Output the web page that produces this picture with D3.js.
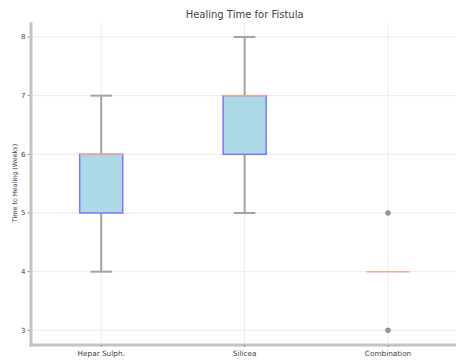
<!DOCTYPE html>
<html><head><meta charset="utf-8">
<script src="https://cdn.jsdelivr.net/npm/d3@7"></script>
<style>body{margin:0;background:#fff}svg{display:block}text{font-family:"DejaVu Sans",sans-serif;fill:#444}</style>
</head><body><svg id="c" width="456" height="360"></svg>
<script>
const categories = ["Hepar Sulph.", "Silicea", "Combination"];
const q1 = [5, 6, 4];
const medians = [6, 7, 4];
const q3 = [6, 7, 4];
const whiskerLow = [4, 5, 4];
const whiskerHigh = [7, 8, 4];
const fliers = [[], [], [5, 3]];
const yTicks = [3, 4, 5, 6, 7, 8];

const svg = d3.select("#c");
const L = 29.5, R = 459.75, T = 22.3, B = 345;
const x = d3.scaleLinear().domain([0.5, 3.5]).range([L, R]);
const y = d3.scaleLinear().domain([2.75, 8.25]).range([B, T]);

// grid
svg.append("g").selectAll("line").data(yTicks).join("line")
  .attr("x1", L).attr("x2", R).attr("y1", d => y(d)).attr("y2", d => y(d))
  .attr("stroke", "#ebebeb").attr("stroke-width", 1);
svg.append("g").selectAll("line").data(categories).join("line")
  .attr("x1", (d, i) => x(i + 1)).attr("x2", (d, i) => x(i + 1)).attr("y1", T).attr("y2", B)
  .attr("stroke", "#ebebeb").attr("stroke-width", 1);

const bw = 0.3, cw = 0.15;
const g = svg.append("g");
categories.forEach((c, i) => {
  const cx = x(i + 1);
  const hw = (x(1 + bw / 2) - x(1));
  const chw = (x(1 + cw / 2) - x(1));
  const wc = "#a3a3a3";
  g.append("line").attr("x1", cx).attr("x2", cx).attr("y1", y(q1[i])).attr("y2", y(whiskerLow[i]))
    .attr("stroke", wc).attr("stroke-width", 2);
  g.append("line").attr("x1", cx).attr("x2", cx).attr("y1", y(q3[i])).attr("y2", y(whiskerHigh[i]))
    .attr("stroke", wc).attr("stroke-width", 2);
  if (whiskerLow[i] !== whiskerHigh[i]) {
    g.append("line").attr("x1", cx - chw).attr("x2", cx + chw).attr("y1", y(whiskerLow[i])).attr("y2", y(whiskerLow[i]))
      .attr("stroke", wc).attr("stroke-width", 2);
    g.append("line").attr("x1", cx - chw).attr("x2", cx + chw).attr("y1", y(whiskerHigh[i])).attr("y2", y(whiskerHigh[i]))
      .attr("stroke", wc).attr("stroke-width", 2);
  }
  if (q3[i] !== q1[i]) {
    g.append("rect").attr("x", cx - hw).attr("width", 2 * hw)
      .attr("y", y(q3[i])).attr("height", y(q1[i]) - y(q3[i]))
      .attr("fill", "#add8e6").attr("stroke", "#7878ff").attr("stroke-width", 1.5);
  }
  g.append("line").attr("x1", cx - hw).attr("x2", cx + hw).attr("y1", y(medians[i])).attr("y2", y(medians[i]))
    .attr("stroke", "#f5a98a").attr("stroke-width", 1.5);
  fliers[i].forEach(v => {
    g.append("circle").attr("cx", cx).attr("cy", y(v)).attr("r", 2.3)
      .attr("fill", "#a0a0a0").attr("stroke", "#707070").attr("stroke-width", 0.8);
  });
});

// axes spines
svg.append("line").attr("x1", L + 1.5).attr("x2", L + 1.5).attr("y1", T).attr("y2", B + 1.5)
  .attr("stroke", "#c4c4c4").attr("stroke-width", 3);
svg.append("line").attr("x1", L).attr("x2", R).attr("y1", B).attr("y2", B)
  .attr("stroke", "#c4c4c4").attr("stroke-width", 3);

// y ticks
const yt = svg.append("g");
yTicks.forEach(t => {
  yt.append("line").attr("x1", L - 2).attr("x2", L).attr("y1", y(t)).attr("y2", y(t)).attr("stroke", "#888");
  yt.append("text").attr("x", L - 4).attr("y", y(t)).attr("dy", "0.35em").attr("text-anchor", "end")
    .attr("font-size", 7).text(t);
});
// x ticks
categories.forEach((c, i) => {
  svg.append("line").attr("x1", x(i + 1)).attr("x2", x(i + 1)).attr("y1", B).attr("y2", B + 2).attr("stroke", "#888");
  svg.append("text").attr("x", x(i + 1)).attr("y", B + 10.5).attr("text-anchor", "middle")
    .attr("font-size", 7.3).text(c);
});

svg.append("text").attr("x", (L + R) / 2).attr("y", 17.5).attr("text-anchor", "middle")
  .attr("font-size", 10).text("Healing Time for Fistula");
svg.append("text").attr("transform", `translate(17,${183}) rotate(-90)`).attr("text-anchor", "middle")
  .attr("font-size", 6.4).text("Time to Healing (Weeks)");
</script></body></html>
